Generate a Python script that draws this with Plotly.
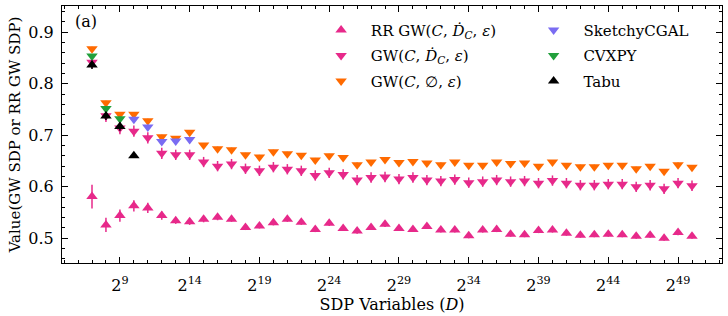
import plotly.graph_objects as go

# exponents of D (x = log2 D)
exps = list(range(7, 51))

gw_empty = [0.868, 0.763, 0.741, 0.741, 0.728, 0.697, 0.694, 0.706, 0.681, 0.674, 0.672, 0.662,
            0.658, 0.668, 0.664, 0.661, 0.652, 0.660, 0.657, 0.643, 0.648, 0.653, 0.647,
            0.649, 0.646, 0.643, 0.648, 0.642, 0.642, 0.648, 0.645, 0.646, 0.640, 0.648,
            0.642, 0.639, 0.639, 0.642, 0.642, 0.635, 0.640, 0.630, 0.643, 0.638]
gw_empty_err = [0.004] * 44

gw_dot = [0.842, 0.738, 0.714, 0.708, 0.695, 0.665, 0.662, 0.662, 0.648, 0.640, 0.644, 0.635,
          0.631, 0.638, 0.634, 0.631, 0.622, 0.627, 0.624, 0.613, 0.618, 0.619, 0.615,
          0.618, 0.613, 0.611, 0.614, 0.608, 0.610, 0.613, 0.610, 0.611, 0.607, 0.612,
          0.607, 0.603, 0.603, 0.605, 0.605, 0.600, 0.603, 0.596, 0.607, 0.602]
gw_dot_err = [0.012, 0.012, 0.012, 0.011, 0.011, 0.011, 0.010, 0.010, 0.010, 0.010, 0.010, 0.010,
              0.010, 0.010, 0.010, 0.010, 0.010, 0.010, 0.010, 0.010, 0.010, 0.010, 0.010,
              0.010, 0.010, 0.010, 0.010, 0.010, 0.010, 0.010, 0.010, 0.010, 0.010, 0.010,
              0.010, 0.010, 0.010, 0.010, 0.010, 0.010, 0.010, 0.010, 0.010, 0.010]

rr_gw = [0.581, 0.526, 0.544, 0.563, 0.559, 0.544, 0.534, 0.532, 0.537, 0.541, 0.537, 0.521,
         0.524, 0.530, 0.537, 0.531, 0.517, 0.529, 0.519, 0.514, 0.521, 0.527, 0.519,
         0.517, 0.523, 0.516, 0.516, 0.505, 0.516, 0.517, 0.508, 0.507, 0.515, 0.516,
         0.510, 0.506, 0.507, 0.508, 0.507, 0.504, 0.506, 0.500, 0.511, 0.504]
rr_gw_err = [0.023, 0.014, 0.012, 0.011, 0.010, 0.008, 0.006, 0.006, 0.006, 0.006, 0.005, 0.005,
             0.005, 0.005, 0.005, 0.005, 0.005, 0.005, 0.005, 0.005, 0.005, 0.005, 0.005,
             0.005, 0.005, 0.005, 0.005, 0.005, 0.005, 0.005, 0.005, 0.005, 0.005, 0.005,
             0.005, 0.005, 0.005, 0.005, 0.005, 0.005, 0.005, 0.005, 0.005, 0.005]

sketchy_exps = [10, 11, 12, 13, 14]
sketchy = [0.731, 0.716, 0.688, 0.689, 0.692]
sketchy_err = [0.005, 0.005, 0.004, 0.004, 0.004]

cvxpy_exps = [7, 8, 9]
cvxpy = [0.854, 0.752, 0.732]
cvxpy_err = [0.004, 0.004, 0.004]

tabu_exps = [7, 8, 9, 10]
tabu = [0.8365, 0.7375, 0.717, 0.660]
tabu_err = [0.008, 0.008, 0.008, 0.004]

xtick_exps = [9, 14, 19, 24, 29, 34, 39, 44, 49]
xtick_text = ["2<sup>%d</sup>" % e for e in xtick_exps]
ytick_vals = [0.5, 0.6, 0.7, 0.8, 0.9]

PINK = "#e7298a"
ORANGE = "#ff6a00"
BLUE = "#7a6cf2"
GREEN = "#22a03c"
BLACK = "#000000"
FONT = "DejaVu Serif"
PAD = "&nbsp;"

fig = go.Figure()


def add(x, y, err, name, color, symbol, legend):
    fig.add_trace(go.Scatter(
        x=x, y=y, mode="markers", name=PAD + name, legend=legend, legendgroup=name,
        marker=dict(symbol=symbol, size=10, color=color, line=dict(width=0)),
        error_y=dict(type="data", array=err, visible=True, color=color,
                     thickness=1.5, width=0),
    ))


add(exps, rr_gw, rr_gw_err, "RR GW(<i>C</i>, <i>Ḋ</i><sub><i>C</i></sub>, <i>ε</i>)",
    PINK, "triangle-up", "legend")
add(exps, gw_dot, gw_dot_err, "GW(<i>C</i>, <i>Ḋ</i><sub><i>C</i></sub>, <i>ε</i>)",
    PINK, "triangle-down", "legend")
add(exps, gw_empty, gw_empty_err, "GW(<i>C</i>, ∅, <i>ε</i>)",
    ORANGE, "triangle-down", "legend")
add(sketchy_exps, sketchy, sketchy_err, "SketchyCGAL", BLUE, "triangle-down", "legend2")
add(cvxpy_exps, cvxpy, cvxpy_err, "CVXPY", GREEN, "triangle-down", "legend2")
add(tabu_exps, tabu, tabu_err, "Tabu", BLACK, "triangle-up", "legend2")

axis_common = dict(
    showline=True, linecolor="black", linewidth=1, mirror="allticks",
    ticks="inside", ticklen=6, tickwidth=1, tickcolor="black",
    showgrid=False, zeroline=False, automargin=False,
    tickfont=dict(family=FONT, size=16, color="black"),
)

fig.update_xaxes(
    **axis_common,
    ticklabelstandoff=8,
    range=[4.85, 52.15],
    tickvals=xtick_exps, ticktext=xtick_text,
    minor=dict(ticks="inside", dtick=1, tick0=0, ticklen=3, tickcolor="black", showgrid=False),
    title=dict(text="SDP Variables (<i>D</i>)", font=dict(family=FONT, size=16, color="black"),
               standoff=3),
)
fig.update_yaxes(
    **axis_common,
    ticklabelstandoff=4,
    range=[0.452, 0.951],
    tickvals=ytick_vals, ticktext=["%.1f" % v for v in ytick_vals],
    minor=dict(ticks="inside", dtick=0.02, tick0=0, ticklen=3, tickcolor="black", showgrid=False),
    title=dict(text="Value(GW SDP or RR GW SDP)", font=dict(family=FONT, size=15, color="black"),
               standoff=4),
)

legend_font = dict(family=FONT, size=15, color="black")
fig.update_layout(
    width=728, height=316,
    margin=dict(l=62, r=6, t=6, b=53),
    paper_bgcolor="white", plot_bgcolor="white",
    font=dict(family=FONT, size=15, color="black"),
    legend=dict(x=0.385, y=0.97, xanchor="left", yanchor="top", bgcolor="rgba(0,0,0,0)",
                font=legend_font, tracegroupgap=3, itemwidth=40, traceorder="grouped"),
    legend2=dict(x=0.707, y=0.97, xanchor="left", yanchor="top", bgcolor="rgba(0,0,0,0)",
                 font=legend_font, tracegroupgap=3, itemwidth=40, traceorder="grouped"),
    annotations=[dict(text="(a)", x=0.017, y=0.985, xref="paper", yref="paper",
                      xanchor="left", yanchor="top", showarrow=False,
                      font=dict(family=FONT, size=16, color="black"))],
)

fig.write_html("out.html", config={"displayModeBar": False},
               post_script="document.body.style.margin='0';")
